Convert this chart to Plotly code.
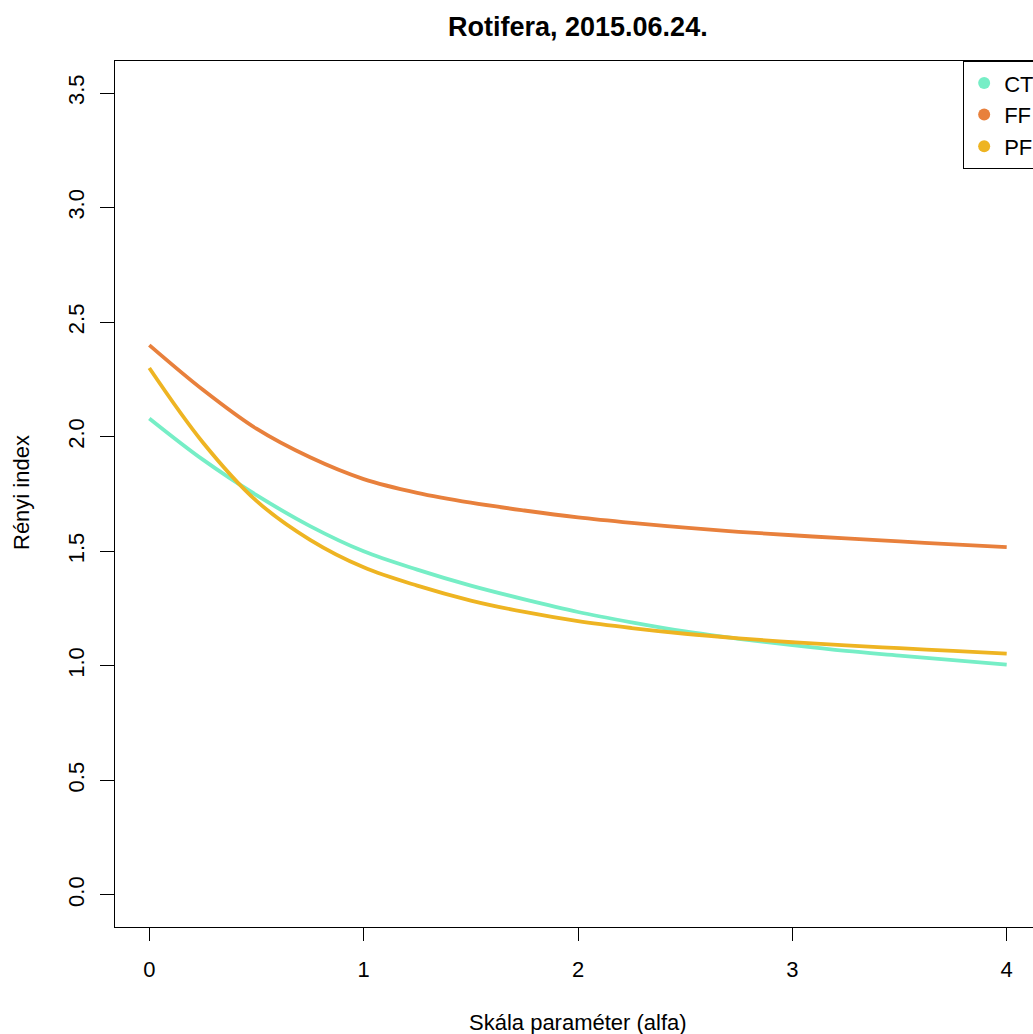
import plotly.graph_objects as go

alpha = [0, 0.25, 0.5, 0.75, 1, 1.25, 1.5, 1.75, 2, 2.25, 2.5, 2.75, 3, 3.25, 3.5, 3.75, 4]
ct = [2.08, 1.90, 1.745, 1.61, 1.50, 1.42, 1.35, 1.29, 1.235, 1.19, 1.15, 1.118, 1.09, 1.065, 1.045, 1.025, 1.005]
ff = [2.40, 2.205, 2.035, 1.91, 1.815, 1.755, 1.712, 1.678, 1.648, 1.624, 1.603, 1.585, 1.57, 1.556, 1.543, 1.53, 1.518]
pf = [2.30, 1.975, 1.72, 1.55, 1.43, 1.35, 1.285, 1.235, 1.195, 1.165, 1.14, 1.12, 1.103, 1.089, 1.077, 1.065, 1.053]

names = ["CT", "FF", "PF"]
colors = ["#76EEC6", "#E8803C", "#EEB422"]
series = [ct, ff, pf]

xticks = [0, 1, 2, 3, 4]
yticks = [0.0, 0.5, 1.0, 1.5, 2.0, 2.5, 3.0, 3.5]
ytick_labels = ["0.0", "0.5", "1.0", "1.5", "2.0", "2.5", "3.0", "3.5"]

FONT = "Liberation Sans, Arial, sans-serif"

fig = go.Figure()
for name, col, vals in zip(names, colors, series):
    fig.add_trace(go.Scatter(x=alpha, y=vals, mode="lines", line=dict(color=col, width=3.8, shape="spline"),
                             showlegend=False, name=name))
for name, col in zip(names, colors):
    fig.add_trace(go.Scatter(x=[None], y=[None], mode="markers", marker=dict(color=col, size=10),
                             name=name, showlegend=True))

fig.update_layout(
    width=1033, height=1034,
    margin=dict(l=115, r=0, t=61, b=107, autoexpand=False),
    paper_bgcolor="white", plot_bgcolor="white",
    font=dict(family=FONT, size=22, color="black"),
    showlegend=True,
    legend=dict(x=0.9237, y=1, xanchor="left", yanchor="top", bordercolor="black", borderwidth=1.2,
                bgcolor="white", font=dict(size=22, family=FONT), itemsizing="constant", tracegroupgap=0),
    xaxis=dict(range=[-0.16, 4.1227], tickvals=xticks, ticktext=[str(v) for v in xticks],
               showgrid=False, zeroline=False, showline=True, linecolor="black", linewidth=1.2,
               mirror=True, ticks="outside", ticklen=13, tickwidth=1.2, tickcolor="black",
               ticklabelstandoff=9, tickfont=dict(size=22)),
    yaxis=dict(range=[-0.14, 3.64], tickvals=yticks, ticktext=ytick_labels,
               showgrid=False, zeroline=False, showline=True, linecolor="black", linewidth=1.2,
               ticks="outside", ticklen=14, tickwidth=1.2, tickcolor="black", tickangle=-90,
               ticklabelstandoff=7, tickfont=dict(size=22)),
    annotations=[
        dict(text="<b>Rotifera, 2015.06.24.</b>", x=578, y=1034 - 27, xref="paper", yref="paper",
             showarrow=False, font=dict(size=27, family=FONT)),
        dict(text="Skála paraméter (alfa)", x=578, y=1034 - 1022, xref="paper", yref="paper",
             showarrow=False, font=dict(size=22, family=FONT)),
        dict(text="Rényi index", x=22, y=1034 - 493, xref="paper", yref="paper",
             showarrow=False, textangle=-90, font=dict(size=22, family=FONT)),
    ],
)

# convert pixel annotation positions to paper coordinates
pw = 1033 - 115
ph = 1034 - 61 - 107
for a in fig.layout.annotations:
    a.x = (a.x - 115) / pw
    a.y = (a.y - 107) / ph
    a.xanchor = "center"
    a.yanchor = "middle"

fig.write_html("out.html")
